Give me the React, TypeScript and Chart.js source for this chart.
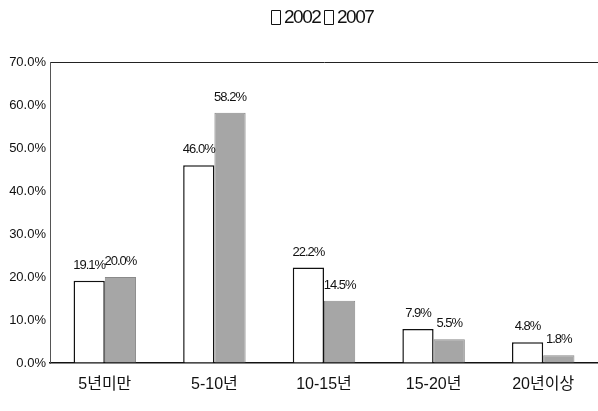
import React, { useEffect, useRef } from "react";
import { Chart, registerables } from "chart.js";

Chart.register(...registerables);

const categories = ["5년미만", "5-10년", "10-15년", "15-20년", "20년이상"];
const seriesNames = ["2002", "2007"];
const values2002 = [19.1, 46.0, 22.2, 7.9, 4.8];
const values2007 = [20.0, 58.2, 14.5, 5.5, 1.8];
const yMax = 70;
const yStep = 10;

const FONT = "'Liberation Sans', 'Noto Sans CJK KR', Arial, sans-serif";
const FILL_2002 = "#ffffff";
const FILL_2007 = "#a6a6a6";

// Percentage labels above each bar
const valueLabels = {
  id: "valueLabels",
  afterDatasetsDraw(chart: any) {
    const ctx = chart.ctx;
    ctx.save();
    ctx.font = `13px ${FONT}`;
    (ctx as any).letterSpacing = "-1px";
    ctx.fillStyle = "#111";
    ctx.textAlign = "center";
    ctx.textBaseline = "alphabetic";
    chart.data.datasets.forEach((ds: any, di: number) => {
      const meta = chart.getDatasetMeta(di);
      meta.data.forEach((el: any, i: number) => {
        const v = ds.data[i] as number;
        ctx.fillText(`${v.toFixed(1)}%`, el.x, el.y - 12);
      });
    });
    ctx.restore();
  },
};

// Legend row at the top: outlined boxes followed by the series names
const topLegend = {
  id: "topLegend",
  afterDraw(chart: any) {
    const ctx = chart.ctx;
    const boxW = 9;
    const boxH = 14;
    const gap = 4;
    const cy = 17;
    ctx.save();
    ctx.font = `19px ${FONT}`;
    (ctx as any).letterSpacing = "-1.5px";
    const items = chart.data.datasets.map((ds: any) => ({
      label: ds.label as string,
      w: boxW + gap + ctx.measureText(ds.label).width,
    }));
    const total = items.reduce((s: number, it: any) => s + it.w, 0) + (items.length - 1) * gap;
    let x = Math.round(322 - total / 2);
    items.forEach((it: any) => {
      const top = cy - boxH / 2;
      ctx.beginPath();
      ctx.rect(x + 0.5, top + 0.5, boxW, boxH);
      ctx.fillStyle = "#ffffff";
      ctx.fill();
      ctx.lineWidth = 1;
      ctx.strokeStyle = "#111111";
      ctx.stroke();
      ctx.fillStyle = "#111111";
      ctx.textBaseline = "middle";
      ctx.textAlign = "left";
      ctx.fillText(it.label, x + boxW + gap, cy + 1);
      x += Math.round(it.w + gap);
    });
    ctx.restore();
  },
};

export default function App() {
  const ref = useRef<HTMLCanvasElement>(null);

  useEffect(() => {
    if (!ref.current) return;
    const chart = new Chart(ref.current, {
      type: "bar",
      data: {
        labels: categories,
        datasets: [
          {
            label: seriesNames[0],
            data: values2002,
            backgroundColor: FILL_2002,
            borderColor: "#111",
            borderWidth: 1.5,
            barPercentage: 1,
            categoryPercentage: 0.57,
          },
          {
            label: seriesNames[1],
            data: values2007,
            backgroundColor: FILL_2007,
            borderColor: "#8a8a8a",
            borderWidth: 1,
            barPercentage: 1,
            categoryPercentage: 0.57,
          },
        ],
      },
      options: {
        responsive: false,
        animation: false,
        devicePixelRatio: 1,
        layout: { padding: { top: 62, left: 0, right: 0, bottom: 0 } },
        plugins: {
          legend: { display: false },
          tooltip: { enabled: false },
          title: { display: false },
        },
        scales: {
          x: {
            grid: { display: false, drawTicks: false },
            border: { display: true, color: "#111", width: 1.5 },
            ticks: {
              color: "#111",
              padding: 12,
              font: { family: FONT, size: 16 },
              maxRotation: 0,
            },
            afterFit(scale: any) {
              scale.height = 48;
            },
          },
          y: {
            min: 0,
            max: yMax,
            grid: {
              drawTicks: false,
              color: (c: any) => (c.tick && c.tick.value === yMax ? "#222" : "transparent"),
              lineWidth: 1,
            },
            border: { display: true, color: "#555", width: 1 },
            ticks: {
              stepSize: yStep,
              padding: 4,
              color: "#111",
              font: { family: FONT, size: 13 },
              callback: (v: any) => `${Number(v).toFixed(1)}%`,
            },
            afterFit(scale: any) {
              scale.width = 50;
            },
          },
        },
      },
      plugins: [valueLabels, topLegend],
    });
    return () => chart.destroy();
  }, []);

  return (
    <div style={{ position: "fixed", left: 0, top: 0, width: 598, height: 411, background: "#fff" }}>
      <canvas ref={ref} width={598} height={411} />
    </div>
  );
}
